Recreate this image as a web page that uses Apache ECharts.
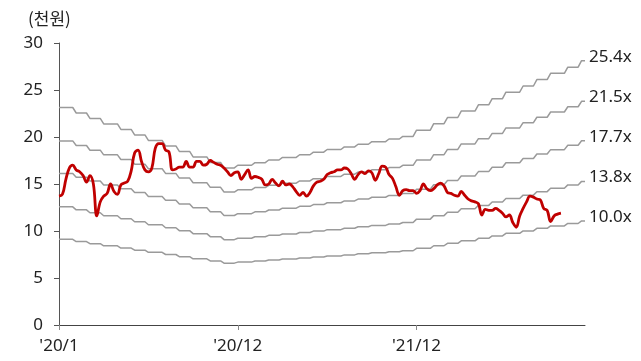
<!DOCTYPE html>
<html>
<head>
<meta charset="utf-8">
<script src="https://cdn.jsdelivr.net/npm/echarts@6/dist/echarts.min.js"></script>
<style>
  html, body { margin: 0; padding: 0; background: #fff; }
  #chart { width: 641px; height: 361px; }
</style>
</head>
<body>
<div id="chart"></div>
<script>
// Weekly share price (thousand won), Jan 2020 onward
const price = [
  13.7, 13.9, 15.5, 16.7, 17.0, 16.5, 16.3, 15.9, 15.2, 15.9,
  15.0, 11.6, 13.1, 13.7, 14.0, 15.0, 14.2, 13.9, 14.9, 15.1,
  15.3, 16.4, 18.3, 18.6, 17.4, 16.5, 16.3, 16.7, 18.8, 19.3,
  19.3, 18.6, 18.4, 16.5, 16.6, 16.8, 16.8, 17.4, 16.8, 16.8,
  17.4, 17.4, 17.0, 17.1, 17.5, 17.3, 17.1, 17.0, 16.7, 16.3,
  15.9, 16.2, 16.3, 15.5, 16.0, 16.5, 15.6, 15.8, 15.7, 15.5,
  14.9, 15.0, 15.5, 15.1, 14.8, 15.3, 14.9, 15.0, 14.7, 14.2,
  13.8, 14.1, 13.7, 14.1, 14.8, 15.2, 15.3, 15.5, 16.0, 16.2,
  16.3, 16.5, 16.5, 16.7, 16.6, 16.1, 15.5, 16.0, 16.3, 16.1,
  16.4, 16.2, 15.4, 16.1, 16.9, 16.8, 16.0, 15.6, 14.7, 13.8,
  14.3, 14.4, 14.3, 14.3, 14.0, 14.3, 15.0, 14.5, 14.3, 14.5,
  14.9, 15.1, 14.8, 14.1, 14.0, 13.8, 13.7, 14.2, 13.8, 13.4,
  13.2, 13.1, 12.9, 11.7, 12.3, 12.2, 12.2, 12.4, 12.2, 11.9,
  11.5, 11.7, 10.9, 10.4, 11.6, 12.4, 13.1, 13.7, 13.6, 13.4,
  13.3, 12.4, 12.2, 11.0, 11.6, 11.8, 11.9
];

// Forward EPS per month (thousand won), Jan 2020 - Dec 2022
const epsMonthly = [
  0.911, 0.888, 0.865, 0.842, 0.819, 0.796, 0.773, 0.750, 0.727, 0.704, 0.681, 0.658,
  0.669, 0.680, 0.691, 0.702, 0.713, 0.724, 0.735, 0.746, 0.757, 0.768, 0.779, 0.790,
  0.816, 0.843, 0.869, 0.896, 0.922, 0.948, 0.975, 1.001, 1.028, 1.054, 1.080, 1.107
];

// PER band multiples and their labels
const multiples = [25.4, 21.5, 17.7, 13.8, 10.0];
const multipleLabels = ['25.4x', '21.5x', '17.7x', '13.8x', '10.0x'];

// X axis: weekly slots, labelled once every 52 weeks
const weekCount = 154;
const weeksPerLabel = 52;
const tickLabels = ["'20/1", "'20/12", "'21/12"];

const weeks = [];
for (let i = 0; i < weekCount; i++) weeks.push(String(i));

function bandSeries(mult, label) {
  const data = weeks.map((_, i) => {
    const m = Math.floor(i * 12 / 52);
    return +(epsMonthly[m] * mult).toFixed(3);
  });
  return {
    type: 'line',
    data: data,
    symbol: 'none',
    smooth: false,
    lineStyle: { color: '#9a9a9a', width: 1.5 },
    endLabel: {
      show: true,
      formatter: label,
      color: '#222',
      fontSize: 17,
      fontFamily: 'Noto Sans',
      distance: 4,
      offset: [0, -4]
    },
    z: 2
  };
}

const font = "'Noto Sans', 'Noto Sans CJK KR', sans-serif";
const chart = echarts.init(document.getElementById('chart'));
chart.setOption({
  animation: false,
  backgroundColor: '#fff',
  textStyle: { fontFamily: font },
  grid: { left: 59, right: 56, top: 43, bottom: 36, containLabel: false },
  graphic: [{
    type: 'text',
    left: 28,
    top: 10,
    style: { text: '(천원)', fontSize: 17, fill: '#222', fontFamily: "'Noto Sans CJK KR', sans-serif" }
  }],
  xAxis: {
    type: 'category',
    boundaryGap: false,
    data: weeks,
    axisLine: { lineStyle: { color: '#444', width: 1 } },
    axisTick: { show: true, interval: weeksPerLabel - 1, length: 5, lineStyle: { color: '#888' } },
    axisLabel: {
      interval: weeksPerLabel - 1,
      margin: 13,
      fontSize: 17,
      color: '#222',
      fontFamily: font,
      formatter: (v, idx) => tickLabels[Math.round(idx / weeksPerLabel)] || ''
    },
    splitLine: { show: false }
  },
  yAxis: {
    type: 'value',
    min: 0,
    max: 30,
    interval: 5,
    axisLine: { show: true, lineStyle: { color: '#555', width: 1 } },
    axisTick: { show: true, length: 5, lineStyle: { color: '#555' } },
    axisLabel: { margin: 16, fontSize: 17, color: '#222', fontFamily: font },
    splitLine: { show: false }
  },
  series: multiples.map((m, k) => bandSeries(m, multipleLabels[k])).concat([{
    type: 'line',
    data: price,
    symbol: 'none',
    smooth: 0.4,
    lineStyle: { color: '#C00000', width: 2.8 },
    z: 5
  }])
});
</script>
</body>
</html>
